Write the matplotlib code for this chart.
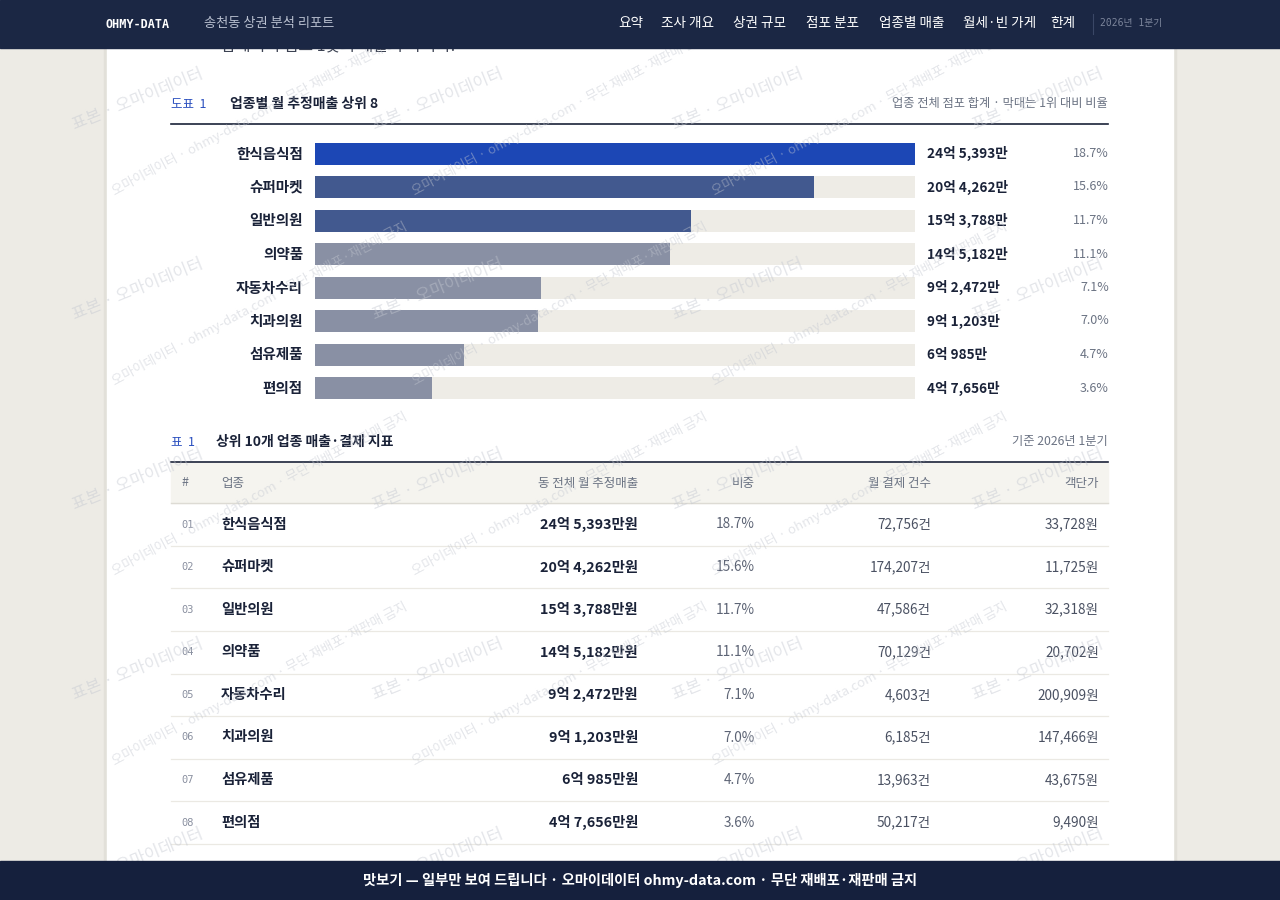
import numpy as np
import matplotlib
matplotlib.use("Agg")
import matplotlib.pyplot as plt
from matplotlib.patches import Rectangle

plt.rcParams['font.family'] = ['Noto Sans CJK KR', 'DejaVu Sans']

# 데이터 (단위: 만원)
업종 = ['한식음식점', '슈퍼마켓', '일반의원', '의약품', '자동차수리', '치과의원', '섬유제품', '편의점']
월매출 = [245393, 204262, 153788, 145182, 92472, 91203, 60985, 47656]
비중 = [18.7, 15.6, 11.7, 11.1, 7.1, 7.0, 4.7, 3.6]
결제건수 = [72756, 174207, 47586, 70129, 4603, 6185, 13963, 50217]
객단가 = [33728, 11725, 32318, 20702, 200909, 147466, 43675, 9490]

nav_items = ['요약', '조사 개요', '상권 규모', '점포 분포', '업종별 매출', '월세·빈 가게', '한계']
table_cols = ['#', '업종', '동 전체 월 추정매출', '비중', '월 결제 건수', '객단가']

NAVY = '#1b2744'
DARK = '#1a2238'
GRAY = '#6b7383'


def fmt_money(v):
    eok, man = divmod(v, 10000)
    return f"{eok}억 {man:,}만"


fig = plt.figure(figsize=(12.8, 9), dpi=100)
fig.patch.set_facecolor('#edebe5')
ax = fig.add_axes([0, 0, 1, 1])
ax.set_xlim(0, 1280)
ax.set_ylim(900, 0)
ax.axis('off')

# 카드 배경
ax.add_patch(Rectangle((104, 0), 1072, 900, color='#e2e0d9', zorder=0))
ax.add_patch(Rectangle((107, 0), 1066, 900, color='white', zorder=0.5))

# 윗부분에 잘린 본문
ax.text(221, 46, '합계이며 점포 1곳의 매출이 아니다.', fontsize=11.5, color='#3c4252', va='center', zorder=1)

# 워터마크 (가장자리를 넘지 않는 것만)
for yy in np.arange(130, 900, 190):
    for xx in np.arange(75, 1100, 300):
        ax.text(xx, yy, '표본 · 오마이데이터', fontsize=12, color='#c3c7d0', alpha=0.45,
                rotation=22, rotation_mode='anchor', zorder=6)
        if yy + 65 < 890 and xx < 900:
            ax.text(xx + 40, yy + 65, '오마이데이터 · ohmy-data.com · 무단 재배포·재판매 금지',
                    fontsize=9.5, color='#c3c7d0', alpha=0.45, rotation=28,
                    rotation_mode='anchor', zorder=6)

# 상단 내비게이션
ax.add_patch(Rectangle((0, 0), 1280, 48, color=NAVY, zorder=8))
ax.text(106, 24, 'OHMY-DATA', family='DejaVu Sans Mono', fontweight='bold', fontsize=8.5,
        color='white', va='center', zorder=9)
ax.text(204, 23, '송천동 상권 분석 리포트', fontsize=9.5, color='#b8bfcf', va='center', zorder=9)
nav_x = [618, 661, 733, 806, 879, 963, 1050]
for label, x in zip(nav_items, nav_x):
    ax.text(x, 23, label, fontsize=9.8, color='white', va='center', zorder=9)
ax.plot([1093, 1093], [14, 34], color='#3a4766', lw=0.8, zorder=9)
ax.text(1100, 23, '2026년 1분기', fontsize=7, color='#7d869c', va='center', zorder=9,
        family=['DejaVu Sans Mono', 'Noto Sans CJK KR'])

# 도표 1 제목
ax.text(171, 104, '도표  1', fontsize=9, color='#2a4fbf', va='center', zorder=2)
ax.text(230, 104, '업종별 월 추정매출 상위 8', fontsize=10, color=DARK, fontweight='bold', va='center', zorder=2)
ax.text(1108, 104, '업종 전체 점포 합계 · 막대는 1위 대비 비율', fontsize=8.8, color=GRAY,
        ha='right', va='center', zorder=2)
ax.plot([171, 1108], [124, 124], color=DARK, lw=1.2, zorder=2)

# 막대 그래프
track_x, track_w = 315, 600
ys = 153.5 + 33.5 * np.arange(len(업종))
vmax = max(월매출)
bar_colors = ['#1c47b5' if i == 0 else '#42598f' if i < 3 else '#8990a4' for i in range(len(업종))]
ax.barh(ys, [track_w] * len(업종), left=track_x, height=22, color='#eeece6', zorder=2)
ax.barh(ys, [v / vmax * track_w for v in 월매출], left=track_x, height=22, color=bar_colors, zorder=3)
for y, name, v, s in zip(ys, 업종, 월매출, 비중):
    ax.text(303, y, name, fontsize=10.5, color=DARK, fontweight='bold', ha='right', va='center', zorder=4)
    ax.text(927, y, fmt_money(v), fontsize=9.8, color=DARK, fontweight='bold', va='center', zorder=4)
    ax.text(1109, y, f'{s}%', fontsize=9, color=GRAY, ha='right', va='center', zorder=4)

# 표 1 제목
ax.text(171, 442, '표  1', fontsize=9, color='#2a4fbf', va='center', zorder=2)
ax.text(216, 442, '상위 10개 업종 매출·결제 지표', fontsize=10, color=DARK, fontweight='bold', va='center', zorder=2)
ax.text(1108, 442, '기준 2026년 1분기', fontsize=8.8, color=GRAY, ha='right', va='center', zorder=2)
ax.plot([171, 1108], [462, 462], color=DARK, lw=1.2, zorder=2)

# 표 헤더
ax.add_patch(Rectangle((171, 463), 937, 40, color='#f5f4ef', zorder=1))
ax.plot([171, 1108], [503, 503], color='#dddbd4', lw=1, zorder=2)
col_x = [181, 221, 638, 755, 931, 1099]
col_ha = ['left', 'left', 'right', 'right', 'right', 'right']
for label, x, ha in zip(table_cols, col_x, col_ha):
    ax.text(x, 483, label, fontsize=9, color=GRAY, ha=ha, va='center', zorder=2)

# 표 본문
row_h = 42.6
for i in range(len(업종)):
    y = 524.5 + i * row_h
    ax.text(181, y, f'{i + 1:02d}', fontsize=7.5, color='#8a90a0', family='DejaVu Sans Mono',
            va='center', zorder=2)
    ax.text(221, y, 업종[i], fontsize=10.3, color=DARK, fontweight='bold', va='center', zorder=2)
    ax.text(638, y, fmt_money(월매출[i]) + '원', fontsize=10.3, color=DARK, fontweight='bold',
            ha='right', va='center', zorder=2)
    ax.text(755, y, f'{비중[i]}%', fontsize=9.8, color='#5d6475', ha='right', va='center', zorder=2)
    ax.text(931, y, f'{결제건수[i]:,}건', fontsize=9.8, color='#4a5162', ha='right', va='center', zorder=2)
    ax.text(1099, y, f'{객단가[i]:,}원', fontsize=9.8, color='#4a5162', ha='right', va='center', zorder=2)
    ax.plot([171, 1108], [y + row_h / 2, y + row_h / 2], color='#ebe9e3', lw=0.9, zorder=1.5)

# 하단 배너
ax.add_patch(Rectangle((0, 861), 1280, 39, color='#15203d', zorder=8))
ax.text(640, 880.5, '맛보기 — 일부만 보여 드립니다 · 오마이데이터 ohmy-data.com · 무단 재배포·재판매 금지',
        fontsize=10.3, color='white', fontweight='bold', ha='center', va='center', zorder=9)

fig.savefig('out.png', dpi=100)
